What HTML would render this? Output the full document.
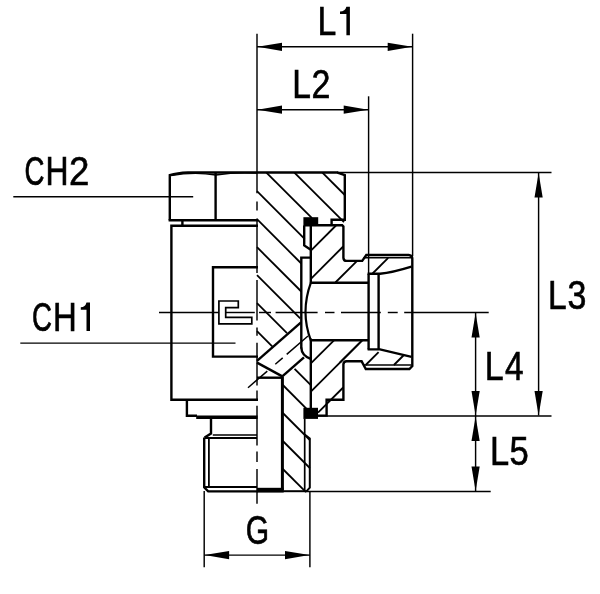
<!DOCTYPE html>
<html><head><meta charset="utf-8"><title>Banjo fitting drawing</title>
<style>
html,body{margin:0;padding:0;background:#fff;}
body{width:600px;height:594px;overflow:hidden;font-family:"Liberation Sans",sans-serif;}
svg{display:block;will-change:transform;}
svg text{font-family:"Liberation Sans",sans-serif;fill:#000;}
</style></head>
<body>
<svg width="600" height="594" viewBox="0 0 600 594">
<rect x="0" y="0" width="600" height="594" fill="#fff"/>
<g stroke="#000" fill="none" stroke-linecap="butt">
<line x1="257.0" y1="33.7" x2="257.0" y2="193.3" stroke-width="1.45" stroke-linecap="butt"/>
<line x1="257.0" y1="201.4" x2="257.0" y2="210.5" stroke-width="1.45" stroke-linecap="butt"/>
<line x1="257.0" y1="218.5" x2="257.0" y2="273.0" stroke-width="1.45" stroke-linecap="butt"/>
<line x1="257.0" y1="280.0" x2="257.0" y2="320.5" stroke-width="1.45" stroke-linecap="butt"/>
<line x1="257.0" y1="327.6" x2="257.0" y2="335.7" stroke-width="1.45" stroke-linecap="butt"/>
<line x1="257.0" y1="342.8" x2="257.0" y2="385.5" stroke-width="1.45" stroke-linecap="butt"/>
<line x1="257.0" y1="390.5" x2="257.0" y2="400.0" stroke-width="1.45" stroke-linecap="butt"/>
<line x1="257.0" y1="405.7" x2="257.0" y2="445.5" stroke-width="1.45" stroke-linecap="butt"/>
<line x1="257.0" y1="451.5" x2="257.0" y2="462.0" stroke-width="1.45" stroke-linecap="butt"/>
<line x1="257.0" y1="469.0" x2="257.0" y2="503.8" stroke-width="1.45" stroke-linecap="butt"/>
<line x1="159.0" y1="312.5" x2="218.9" y2="312.5" stroke-width="1.45" stroke-linecap="butt"/>
<line x1="225.7" y1="312.5" x2="254.8" y2="312.5" stroke-width="1.45" stroke-linecap="butt"/>
<line x1="259.0" y1="312.5" x2="271.0" y2="312.5" stroke-width="1.45" stroke-linecap="butt"/>
<line x1="275.6" y1="312.5" x2="317.6" y2="312.5" stroke-width="1.45" stroke-linecap="butt"/>
<line x1="325.0" y1="312.5" x2="334.5" y2="312.5" stroke-width="1.45" stroke-linecap="butt"/>
<line x1="341.0" y1="312.5" x2="380.8" y2="312.5" stroke-width="1.45" stroke-linecap="butt"/>
<line x1="387.8" y1="312.5" x2="397.7" y2="312.5" stroke-width="1.45" stroke-linecap="butt"/>
<line x1="404.2" y1="312.5" x2="488.7" y2="312.5" stroke-width="1.45" stroke-linecap="butt"/>
<line x1="412.6" y1="33.7" x2="412.6" y2="256.0" stroke-width="1.45" stroke-linecap="butt"/>
<line x1="257.0" y1="46.8" x2="412.6" y2="46.8" stroke-width="1.45" stroke-linecap="butt"/>
<polygon points="257.5,46.8 282.0,42.7 282.0,50.9" fill="#000" stroke="none"/>
<polygon points="412.2,46.8 387.7,50.9 387.7,42.7" fill="#000" stroke="none"/>
<line x1="368.6" y1="96.3" x2="368.6" y2="274.0" stroke-width="1.45" stroke-linecap="butt"/>
<line x1="257.0" y1="109.7" x2="368.6" y2="109.7" stroke-width="1.45" stroke-linecap="butt"/>
<polygon points="257.5,109.7 282.0,105.6 282.0,113.8" fill="#000" stroke="none"/>
<polygon points="368.2,109.7 343.7,113.8 343.7,105.6" fill="#000" stroke="none"/>
<line x1="337.0" y1="172.4" x2="551.5" y2="172.4" stroke-width="1.45" stroke-linecap="butt"/>
<line x1="318.0" y1="416.0" x2="551.5" y2="416.0" stroke-width="1.45" stroke-linecap="butt"/>
<line x1="538.6" y1="173.0" x2="538.6" y2="415.5" stroke-width="1.45" stroke-linecap="butt"/>
<polygon points="538.6,172.9 542.7,197.4 534.5,197.4" fill="#000" stroke="none"/>
<polygon points="538.6,415.5 534.5,391.0 542.7,391.0" fill="#000" stroke="none"/>
<line x1="475.6" y1="313.0" x2="475.6" y2="491.0" stroke-width="1.45" stroke-linecap="butt"/>
<polygon points="475.6,313.0 479.7,337.5 471.5,337.5" fill="#000" stroke="none"/>
<polygon points="475.6,415.5 471.5,391.0 479.7,391.0" fill="#000" stroke="none"/>
<polygon points="475.6,416.5 479.7,441.0 471.5,441.0" fill="#000" stroke="none"/>
<polygon points="475.6,491.0 471.5,466.5 479.7,466.5" fill="#000" stroke="none"/>
<line x1="306.0" y1="491.5" x2="490.7" y2="491.5" stroke-width="1.45" stroke-linecap="butt"/>
<line x1="204.2" y1="491.0" x2="204.2" y2="567.3" stroke-width="1.45" stroke-linecap="butt"/>
<line x1="309.9" y1="491.0" x2="309.9" y2="567.3" stroke-width="1.45" stroke-linecap="butt"/>
<line x1="204.2" y1="555.1" x2="309.9" y2="555.1" stroke-width="1.45" stroke-linecap="butt"/>
<polygon points="204.6,555.1 229.1,551.0 229.1,559.2" fill="#000" stroke="none"/>
<polygon points="309.5,555.1 285.0,559.2 285.0,551.0" fill="#000" stroke="none"/>
<line x1="13.3" y1="196.7" x2="193.2" y2="196.7" stroke-width="1.45" stroke-linecap="butt"/>
<line x1="20.3" y1="343.1" x2="235.5" y2="343.1" stroke-width="1.45" stroke-linecap="butt"/>
<path d="M169.8,220.3 L169.8,175.2 Q177,172.9 188,172.5 L338,172.5" stroke-width="2.4" fill="none" stroke-linejoin="miter"/>
<path d="M171,175.6 Q194,171.6 215.8,175.0 Q237,171.8 257,173.2" stroke-width="1.3" fill="none" stroke-linejoin="miter"/>
<line x1="168.6" y1="220.3" x2="258.0" y2="220.3" stroke-width="2.4" stroke-linecap="butt"/>
<line x1="215.6" y1="173.0" x2="215.6" y2="220.3" stroke-width="2.4" stroke-linecap="butt"/>
<line x1="182.4" y1="220.3" x2="182.4" y2="225.7" stroke-width="2.4" stroke-linecap="butt"/>
<path d="M258.0,225.8 L171.4,225.8 L171.4,399.8 L258.0,399.8" stroke-width="2.4" fill="none" stroke-linejoin="miter"/>
<path d="M258.0,267.3 L213.0,267.3 L213.0,356.6 L258.0,356.6" stroke-width="2.4" fill="none" stroke-linejoin="miter"/>
<path d="M218.9,301.0 L238.3,301.0 L238.3,307.7 L225.7,307.7 L225.7,317.3 L251.8,317.3 L251.8,323.9 L218.9,323.9 Z" stroke-width="1.7" fill="none" stroke-linejoin="miter"/>
<path d="M186.9,399.8 L186.9,415.8 L197.0,415.8" stroke-width="2.4" fill="none" stroke-linejoin="miter"/>
<line x1="196.2" y1="417.2" x2="257.6" y2="417.2" stroke-width="3.6" stroke-linecap="butt"/>
<path d="M211.0,418.0 L211.0,433.6 L204.6,437.6" stroke-width="2.4" fill="none" stroke-linejoin="miter"/>
<line x1="212.8" y1="435.0" x2="257.0" y2="435.0" stroke-width="1.45" stroke-linecap="butt"/>
<line x1="204.6" y1="438.0" x2="257.0" y2="438.0" stroke-width="2.2" stroke-linecap="butt"/>
<line x1="204.2" y1="437.5" x2="204.2" y2="487.8" stroke-width="2.4" stroke-linecap="butt"/>
<line x1="208.9" y1="438.0" x2="208.9" y2="488.0" stroke-width="1.8" stroke-linecap="butt"/>
<line x1="203.2" y1="487.0" x2="257.0" y2="487.0" stroke-width="2.1" stroke-linecap="butt"/>
<path d="M204.2,487.4 L208.2,491.3 L257.4,491.3" stroke-width="2.3" fill="none" stroke-linejoin="miter"/>
<line x1="322.4" y1="172.6" x2="344.8" y2="195.0" stroke-width="1.8" stroke-linecap="butt"/>
<line x1="294.4" y1="172.6" x2="344.0" y2="222.2" stroke-width="1.8" stroke-linecap="butt"/>
<line x1="266.4" y1="172.6" x2="312.0" y2="218.2" stroke-width="1.8" stroke-linecap="butt"/>
<line x1="257.0" y1="191.2" x2="304.6" y2="238.8" stroke-width="1.8" stroke-linecap="butt"/>
<line x1="257.0" y1="219.2" x2="301.3" y2="263.5" stroke-width="1.8" stroke-linecap="butt"/>
<line x1="257.0" y1="247.2" x2="301.3" y2="291.5" stroke-width="1.8" stroke-linecap="butt"/>
<line x1="257.0" y1="275.2" x2="300.2" y2="318.4" stroke-width="1.8" stroke-linecap="butt"/>
<line x1="257.0" y1="303.2" x2="287.0" y2="333.2" stroke-width="1.8" stroke-linecap="butt"/>
<line x1="257.0" y1="331.2" x2="272.2" y2="346.4" stroke-width="1.8" stroke-linecap="butt"/>
<line x1="294.6" y1="368.8" x2="310.6" y2="384.8" stroke-width="1.8" stroke-linecap="butt"/>
<line x1="282.3" y1="384.5" x2="310.6" y2="412.8" stroke-width="1.8" stroke-linecap="butt"/>
<line x1="282.3" y1="412.5" x2="309.8" y2="440.0" stroke-width="1.8" stroke-linecap="butt"/>
<line x1="282.3" y1="440.5" x2="309.8" y2="468.0" stroke-width="1.8" stroke-linecap="butt"/>
<line x1="282.3" y1="468.5" x2="306.0" y2="492.2" stroke-width="1.8" stroke-linecap="butt"/>
<path d="M337.5,172.6 L344.8,175.2 L344.8,219.8 L331.6,219.8 L331.6,225.2" stroke-width="2.4" fill="none" stroke-linejoin="miter"/>
<rect x="303.4" y="217.2" width="14.8" height="8.8" fill="#000" stroke="none"/>
<rect x="303.4" y="407.8" width="14.6" height="11.1" fill="#000" stroke="none"/>
<path d="M304.2,225.5 L304.2,245.4 L310.4,249.6" stroke-width="2.4" fill="none" stroke-linejoin="miter"/>
<path d="M310.8,257.6 L301.3,257.6 L301.3,348.5" stroke-width="2.4" fill="none" stroke-linejoin="miter"/>
<path d="M301.3,347.5 Q301.6,355.5 310.6,358.8" stroke-width="2.4" fill="none" stroke-linejoin="miter"/>
<line x1="257.0" y1="360.8" x2="301.0" y2="322.4" stroke-width="2.4" stroke-linecap="butt"/>
<line x1="257.0" y1="362.6" x2="282.3" y2="376.4" stroke-width="2.4" stroke-linecap="butt"/>
<line x1="282.0" y1="376.6" x2="304.0" y2="357.4" stroke-width="2.4" stroke-linecap="butt"/>
<line x1="248.0" y1="387.7" x2="267.3" y2="371.1" stroke-width="1.45" stroke-linecap="butt"/>
<line x1="275.3" y1="364.3" x2="282.7" y2="357.9" stroke-width="1.45" stroke-linecap="butt"/>
<line x1="286.7" y1="354.4" x2="308.0" y2="336.0" stroke-width="1.45" stroke-linecap="butt"/>
<line x1="257.0" y1="377.7" x2="282.3" y2="377.7" stroke-width="2.4" stroke-linecap="butt"/>
<line x1="282.4" y1="376.7" x2="282.4" y2="490.4" stroke-width="3.0" stroke-linecap="butt"/>
<line x1="257.0" y1="490.2" x2="283.6" y2="490.2" stroke-width="4.8" stroke-linecap="butt"/>
<line x1="283.0" y1="491.2" x2="306.6" y2="491.2" stroke-width="2.0" stroke-linecap="butt"/>
<line x1="304.7" y1="418.5" x2="304.7" y2="490.5" stroke-width="1.7" stroke-linecap="butt"/>
<path d="M304.7,434.5 L309.8,438.4 L309.8,487.6 L306.4,491.4" stroke-width="2.0" fill="none" stroke-linejoin="miter"/>
<line x1="310.9" y1="250.6" x2="336.0" y2="225.5" stroke-width="1.8" stroke-linecap="butt"/>
<line x1="310.9" y1="278.8" x2="343.2" y2="246.5" stroke-width="1.8" stroke-linecap="butt"/>
<line x1="335.4" y1="282.5" x2="356.6" y2="261.3" stroke-width="1.8" stroke-linecap="butt"/>
<line x1="372.6" y1="273.5" x2="388.2" y2="257.9" stroke-width="1.8" stroke-linecap="butt"/>
<line x1="310.6" y1="363.7" x2="334.0" y2="340.3" stroke-width="1.8" stroke-linecap="butt"/>
<line x1="310.6" y1="391.9" x2="362.2" y2="340.3" stroke-width="1.8" stroke-linecap="butt"/>
<line x1="340.0" y1="362.5" x2="362.2" y2="340.3" stroke-width="1.8" stroke-linecap="butt"/>
<line x1="318.0" y1="412.7" x2="343.2" y2="387.5" stroke-width="1.8" stroke-linecap="butt"/>
<line x1="365.7" y1="365.0" x2="378.6" y2="352.1" stroke-width="1.8" stroke-linecap="butt"/>
<line x1="393.9" y1="365.0" x2="403.9" y2="355.0" stroke-width="1.8" stroke-linecap="butt"/>
<line x1="310.8" y1="225.2" x2="310.8" y2="283.5" stroke-width="2.4" stroke-linecap="butt"/>
<line x1="310.8" y1="338.5" x2="310.8" y2="408.5" stroke-width="2.4" stroke-linecap="butt"/>
<path d="M310.9,282.6 Q300.1,312 310.9,340.6" stroke-width="2.2" fill="none" stroke-linejoin="miter"/>
<path d="M304,225.3 L342.2,225.3 L343.4,226.5 L343.4,257.8 Q343.6,260.9 346.6,260.9 L362.2,260.9 L366.3,255.0 L408.8,255.0 Q412.3,255.2 412.3,258.6 L412.3,366.0 L409.4,369.0 L365.8,369.0 L361.6,361.2 L346.6,361.2 Q343.5,361.3 343.4,364.4 L343.4,399.8 L326.6,399.8 L326.6,415.6 L318,415.6" stroke-width="2.4" fill="none" stroke-linejoin="miter"/>
<line x1="363.5" y1="257.8" x2="411.5" y2="257.8" stroke-width="1.45" stroke-linecap="butt"/>
<line x1="364.0" y1="365.0" x2="411.5" y2="365.0" stroke-width="1.45" stroke-linecap="butt"/>
<line x1="310.8" y1="282.8" x2="368.6" y2="282.8" stroke-width="2.4" stroke-linecap="butt"/>
<line x1="310.8" y1="340.2" x2="368.6" y2="340.2" stroke-width="2.4" stroke-linecap="butt"/>
<path d="M368.6,273.8 L368.6,349.4" stroke-width="2.4" fill="none" stroke-linejoin="miter"/>
<line x1="378.6" y1="273.8" x2="378.6" y2="349.4" stroke-width="2.4" stroke-linecap="butt"/>
<path d="M367.6,273.8 L380,273.8 Q392,272.6 411.5,266.6" stroke-width="2.4" fill="none" stroke-linejoin="miter"/>
<path d="M367.6,349.4 L380,349.4 L411.5,356.8" stroke-width="2.4" fill="none" stroke-linejoin="miter"/>
</g>
<g>
<text transform="translate(317.43,35.2) scale(0.8242,1)" font-size="41.0" stroke="#000" stroke-width="0.6" vector-effect="non-scaling-stroke">L</text>
<path d="M346.40,6.70 L349.90,6.70 L349.90,35.20 L346.40,35.20 L346.40,14.00 L340.00,14.00 L340.00,11.60 Q345.20,11.40 346.40,6.70 Z" fill="#000" stroke="none"/>
<text transform="translate(292.25,98.0) scale(0.8187,1)" font-size="41.0" stroke="#000" stroke-width="0.6" vector-effect="non-scaling-stroke">L</text>
<text transform="translate(311.49,98.0) scale(0.8298,1)" font-size="41.0" stroke="#000" stroke-width="0.6" vector-effect="non-scaling-stroke">2</text>
<text transform="translate(548.05,308.9) scale(0.8187,1)" font-size="41.0" stroke="#000" stroke-width="0.6" vector-effect="non-scaling-stroke">L</text>
<text transform="translate(567.41,308.9) scale(0.8282,1)" font-size="41.0" stroke="#000" stroke-width="0.6" vector-effect="non-scaling-stroke">3</text>
<text transform="translate(484.81,379.6) scale(0.8298,1)" font-size="41.0" stroke="#000" stroke-width="0.6" vector-effect="non-scaling-stroke">L</text>
<text transform="translate(504.93,379.6) scale(0.8132,1)" font-size="41.0" stroke="#000" stroke-width="0.6" vector-effect="non-scaling-stroke">4</text>
<text transform="translate(489.97,465.4) scale(0.8408,1)" font-size="41.0" stroke="#000" stroke-width="0.6" vector-effect="non-scaling-stroke">L</text>
<text transform="translate(509.52,465.4) scale(0.8437,1)" font-size="41.0" stroke="#000" stroke-width="0.6" vector-effect="non-scaling-stroke">5</text>
<text transform="translate(245.69,544.3) scale(0.7323,1)" font-size="41.0" stroke="#000" stroke-width="0.6" vector-effect="non-scaling-stroke">G</text>
<text transform="translate(24.40,184.8) scale(0.6740,1)" font-size="41.0" stroke="#000" stroke-width="0.6" vector-effect="non-scaling-stroke">C</text>
<text transform="translate(45.39,184.8) scale(0.7772,1)" font-size="41.0" stroke="#000" stroke-width="0.6" vector-effect="non-scaling-stroke">H</text>
<text transform="translate(68.96,184.8) scale(0.8941,1)" font-size="41.0" stroke="#000" stroke-width="0.6" vector-effect="non-scaling-stroke">2</text>
<text transform="translate(31.90,330.9) scale(0.6740,1)" font-size="41.0" stroke="#000" stroke-width="0.6" vector-effect="non-scaling-stroke">C</text>
<text transform="translate(53.10,330.9) scale(0.8034,1)" font-size="41.0" stroke="#000" stroke-width="0.6" vector-effect="non-scaling-stroke">H</text>
<path d="M86.50,302.40 L90.00,302.40 L90.00,330.90 L86.50,330.90 L86.50,309.70 L80.80,309.70 L80.80,307.30 Q85.30,307.10 86.50,302.40 Z" fill="#000" stroke="none"/>
</g>
</svg>
</body></html>
